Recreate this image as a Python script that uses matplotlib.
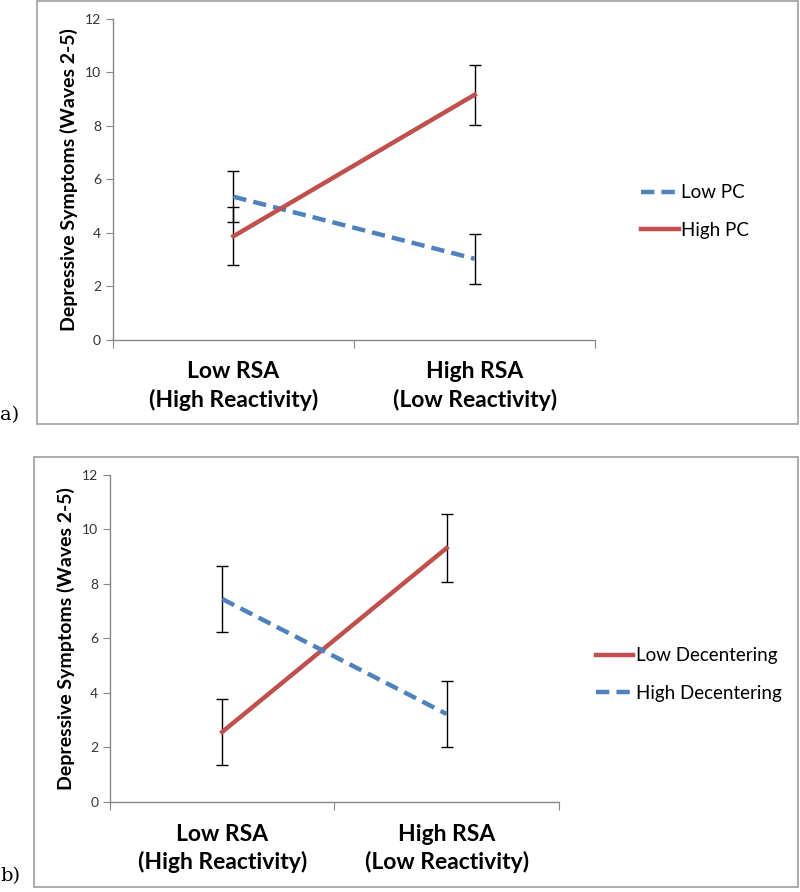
"""
Two-panel interaction plot: depressive symptoms by RSA level.
"""
import matplotlib.pyplot as plt
from matplotlib.patches import Rectangle
from matplotlib.lines import Line2D

plt.rcParams['font.family'] = ['Lato', 'DejaVu Sans']

# categories on the x axis
categories = ['Low RSA\n(High Reactivity)', 'High RSA\n(Low Reactivity)']

# panel a
a_low_pc = [5.35, 3.03]
a_low_pc_err = [0.95, 0.93]
a_high_pc = [3.87, 9.16]
a_high_pc_err = [1.08, 1.12]

# panel b
b_low_dec = [2.57, 9.32]
b_low_dec_err = [1.21, 1.24]
b_high_dec = [7.45, 3.23]
b_high_dec_err = [1.21, 1.21]

RED = '#C0504D'
BLUE = '#4F81BD'
GRAY = '#868686'
DASH = (0, (3, 1.6))

fig = plt.figure(figsize=(8, 8.92), dpi=100)

# panel frames
fig.patches.append(Rectangle((0.046, 0.5247), 0.951, 0.474, transform=fig.transFigure,
                             fill=False, edgecolor='#a0a0a0', linewidth=1.2))
fig.patches.append(Rectangle((0.0425, 0.0056), 0.955, 0.482, transform=fig.transFigure,
                             fill=False, edgecolor='#a0a0a0', linewidth=1.2))


def setup(ax):
    ax.set_xlim(0, 2)
    ax.set_ylim(0, 12)
    ax.set_yticks(range(0, 13, 2))
    ax.set_xticks([0, 1, 2])
    ax.set_xticklabels([])
    for s in ['top', 'right']:
        ax.spines[s].set_visible(False)
    for s in ['left', 'bottom']:
        ax.spines[s].set_color(GRAY)
        ax.spines[s].set_linewidth(1.0)
    ax.tick_params(axis='y', colors=GRAY, labelcolor='#333333', labelsize=10,
                   length=5, direction='out')
    ax.tick_params(axis='x', colors=GRAY, length=6, direction='out')
    ax.set_ylabel('Depressive Symptoms (Waves 2-5)', fontsize=14, fontweight='bold',
                  labelpad=5)
    for i, lab in enumerate(categories):
        ax.text(i + 0.5, -0.8, lab, ha='center', va='top', fontsize=16.5,
                fontweight='bold', linespacing=1.35, transform=ax.transData)


def legend(ax, items, x, y):
    handles = [Line2D([], [], color=c, lw=3.2, ls=ls) for c, ls, _ in items]
    labels = [lab for _, _, lab in items]
    ax.legend(handles, labels, loc='center left', bbox_to_anchor=(x, y), frameon=False,
              fontsize=13.5, handlelength=2.0, handletextpad=0.15, labelspacing=1.1)


xs = [0.5, 1.5]
ebar = dict(ecolor='black', elinewidth=1, capsize=4, capthick=1)

# panel a
ax1 = fig.add_axes([0.141, 0.619, 0.603, 0.360])
setup(ax1)
ax1.errorbar(xs, a_low_pc, yerr=a_low_pc_err, color=BLUE, lw=3.2, ls=DASH, **ebar)
ax1.errorbar(xs, a_high_pc, yerr=a_high_pc_err, color=RED, lw=3.2, **ebar)
legend(ax1, [(BLUE, DASH, 'Low PC'), (RED, '-', 'High PC')], 1.06, 0.40)
fig.text(0.0, 0.525, 'a)', family='DejaVu Serif', fontsize=14, va='bottom')

# panel b
ax2 = fig.add_axes([0.1375, 0.1009, 0.561, 0.3666])
setup(ax2)
ax2.errorbar(xs, b_low_dec, yerr=b_low_dec_err, color=RED, lw=3.2, **ebar)
ax2.errorbar(xs, b_high_dec, yerr=b_high_dec_err, color=BLUE, lw=3.2, ls=DASH, **ebar)
legend(ax2, [(RED, '-', 'Low Decentering'), (BLUE, DASH, 'High Decentering')], 1.045, 0.39)
fig.text(0.0, 0.008, 'b)', family='DejaVu Serif', fontsize=14, va='bottom')

fig.savefig('out.png', dpi=100)
